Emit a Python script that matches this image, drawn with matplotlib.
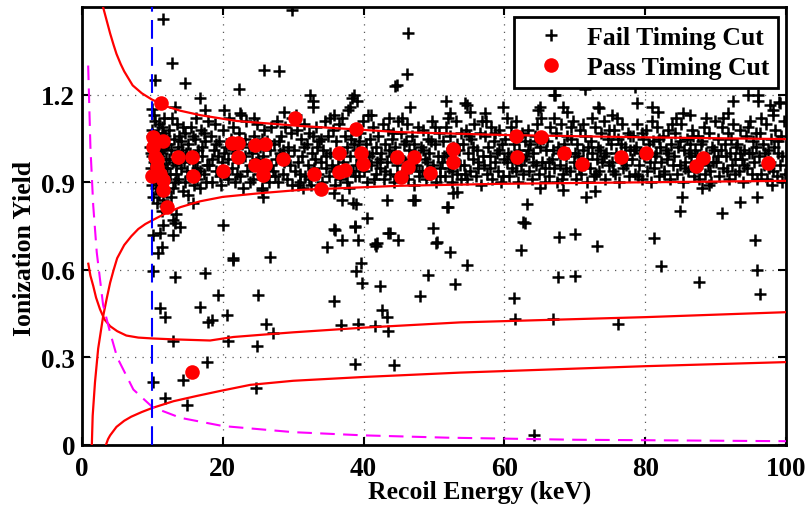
import numpy as np
import matplotlib
matplotlib.use('Agg')
import matplotlib.pyplot as plt

###########################################################################
## Data
# Recoil energy threshold [keV]
thresh_keV = 10.0

# Electron recoil band, upper edge
er_hi_x = [3.0, 3.5, 4.0, 4.5, 4.9, 5.5, 6.0, 7.2, 8.5, 9.9, 12.0, 14.0, 16.8, 22.0, 31.0, 45.0, 60.0, 80.0, 100.0]
er_hi_y = [1.50, 1.455, 1.41, 1.37, 1.34, 1.305, 1.28, 1.232, 1.205, 1.184, 1.16, 1.145, 1.13, 1.11, 1.093, 1.072,
           1.062, 1.054, 1.048]
# Electron recoil band, lower edge
er_lo_x = [1.4, 1.52, 1.85, 2.3, 3.0, 3.5, 4.0, 4.5, 5.0, 6.0, 7.0, 8.0, 9.0, 10.0, 12.0, 14.0, 16.8, 20.0, 25.0,
           31.0, 45.0, 60.0, 80.0, 100.0]
er_lo_y = [0.0, 0.10, 0.215, 0.33, 0.44, 0.50, 0.556, 0.60, 0.64, 0.685, 0.715, 0.74, 0.757, 0.77, 0.795, 0.815,
           0.835, 0.85, 0.862, 0.874, 0.888, 0.895, 0.90, 0.905]
# Nuclear recoil band, upper edge
nr_hi_x = [0.9, 1.2, 1.6, 2.0, 2.56, 3.2, 4.0, 5.0, 6.3, 8.0, 10.0, 12.9, 18.2, 21.5, 25.7, 30.0, 40.0, 53.7, 80.0,
           100.0]
nr_hi_y = [0.621, 0.58, 0.545, 0.505, 0.465, 0.43, 0.407, 0.39, 0.375, 0.368, 0.365, 0.362, 0.358, 0.370, 0.378,
           0.386, 0.402, 0.42, 0.438, 0.455]
# Nuclear recoil band, lower edge
nr_lo_x = [3.4, 3.7, 4.0, 4.9, 6.0, 7.0, 8.5, 10.0, 13.0, 16.3, 19.6, 23.9, 30.0, 40.0, 53.7, 80.0, 100.0]
nr_lo_y = [0.0, 0.02, 0.033, 0.062, 0.083, 0.097, 0.113, 0.127, 0.15, 0.168, 0.185, 0.206, 0.22, 0.233, 0.248,
           0.27, 0.284]
# Ionization threshold curve
ion_thr_x = [0.88, 1.2, 1.6, 2.1, 3.0, 4.0, 5.0, 7.3, 10.0, 14.0, 20.0, 30.0, 40.0, 52.0, 70.0, 100.0]
ion_thr_y = [1.30, 1.02, 0.82, 0.66, 0.48, 0.385, 0.30, 0.19, 0.13, 0.093, 0.065, 0.044, 0.033, 0.025, 0.018, 0.013]

# Events passing the timing cut
pass_pts = [
    (11.2, 1.17), (30.2, 1.12), (10.1, 1.055), (10.1, 1.02), (10.4, 0.986), (10.6, 0.952),
    (11.1, 0.93), (11.5, 0.908), (11.5, 0.874), (12.1, 0.816), (11.5, 1.04), (10.0, 0.92),
    (10.6, 0.976), (13.6, 0.986), (15.6, 0.986), (15.8, 0.92), (20.0, 0.94), (21.3, 1.035),
    (22.2, 1.035), (22.2, 0.986), (24.6, 1.027), (26.0, 1.03), (24.6, 0.96), (26.0, 0.96),
    (25.7, 0.925), (28.6, 0.98), (38.9, 1.082), (36.5, 1.0), (39.6, 1.0), (39.9, 0.963),
    (37.4, 0.942), (36.5, 0.935), (33.0, 0.928), (34.0, 0.877), (44.7, 0.986), (47.2, 0.986),
    (46.3, 0.952), (45.3, 0.918), (49.4, 0.932), (52.7, 1.013), (52.7, 0.97), (61.6, 1.058),
    (65.2, 1.055), (61.8, 0.986), (68.5, 1.0), (71.0, 0.962), (76.6, 0.985), (80.1, 1.0),
    (87.2, 0.956), (88.2, 0.983), (97.4, 0.966), (15.6, 0.25),
]

# Events failing the timing cut, dense band
fail_band = [
    (9.7, 1.02), (9.8, 0.95), (9.9, 1.08), (10.0, 0.99), (10.1, 0.91), (10.2, 1.05), (10.3, 0.97), (10.4, 1.11),
    (10.5, 0.88), (10.6, 1.01), (10.7, 0.94), (10.8, 1.07), (10.9, 0.86), (11.0, 0.99), (11.1, 1.04), (11.2, 0.92),
    (11.3, 1.09), (11.4, 0.96), (11.5, 0.84), (11.6, 1.02), (11.7, 0.90), (11.8, 1.06), (11.9, 0.98), (12.0, 0.87),
    (9.8, 1.00), (10.0, 1.06), (10.2, 0.93), (10.4, 0.98), (10.6, 0.90), (10.8, 0.97), (11.0, 1.10), (11.2, 1.01),
    (11.4, 0.89), (11.6, 0.95), (11.8, 0.82), (12.0, 1.03), (10.1, 0.85), (10.5, 1.03), (10.9, 0.93), (11.3, 1.00),
    (11.7, 1.12), (12.1, 0.95), (9.9, 0.89), (10.3, 1.13), (10.7, 0.83), (11.1, 0.87), (11.5, 1.07), (11.9, 0.91),
    (10.0, 1.15), (11.4, 0.80),
    (12.3, 1.08), (12.5, 0.93), (12.7, 1.01), (12.9, 0.88), (13.1, 1.05), (13.3, 0.96), (13.5, 1.10), (13.7, 0.91),
    (13.9, 0.99), (14.1, 1.04), (14.3, 0.87), (14.5, 0.97), (14.7, 1.07), (14.9, 0.94), (12.4, 0.98), (12.8, 1.12),
    (13.2, 0.90), (13.6, 1.02), (14.0, 0.95), (14.4, 1.09), (14.8, 1.00), (12.6, 0.85), (13.4, 0.93), (14.2, 1.01),
    (12.2, 1.03), (13.0, 0.97), (13.8, 1.06), (14.6, 0.90),
    (15.1, 1.03), (15.3, 0.92), (15.5, 1.09), (15.7, 0.97), (15.9, 0.89), (16.1, 1.05), (16.3, 0.95), (16.5, 1.01),
    (16.7, 0.88), (16.9, 1.08), (17.1, 0.99), (17.3, 0.93), (17.5, 1.04), (17.7, 0.96), (17.9, 1.11), (15.2, 0.98),
    (15.8, 1.06), (16.4, 0.91), (17.0, 1.02), (17.6, 0.90), (16.0, 0.97), (16.8, 0.94), (15.4, 1.00), (17.4, 1.07),
    (16.2, 1.12),
    (18.1, 0.96), (18.3, 1.06), (18.5, 0.90), (18.7, 1.01), (18.9, 1.10), (19.1, 0.94), (19.3, 0.99), (19.5, 1.04),
    (19.7, 0.89), (19.9, 0.97), (20.1, 1.08), (20.3, 0.93), (20.5, 1.02), (20.7, 0.98), (20.9, 1.12), (18.4, 0.98),
    (19.0, 1.03), (19.6, 0.92), (20.2, 1.00), (20.8, 0.91),
    (21.1, 1.05), (21.3, 0.95), (21.5, 1.09), (21.7, 0.90), (21.9, 1.00), (22.1, 0.97), (22.3, 1.07), (22.5, 0.92),
    (22.7, 1.03), (22.9, 0.88), (23.1, 0.99), (23.3, 1.11), (23.5, 0.94), (23.7, 1.02), (23.9, 0.96), (21.4, 1.01),
    (22.0, 0.93), (22.6, 1.13), (23.2, 1.05), (23.8, 0.90),
    (24.1, 1.00), (24.3, 0.91), (24.5, 1.06), (24.7, 0.97), (24.9, 1.10), (25.1, 0.93), (25.3, 1.02), (25.5, 0.88),
    (25.7, 0.99), (25.9, 1.08), (26.1, 0.95), (26.3, 1.04), (26.5, 0.90), (26.7, 1.01), (26.9, 0.96), (24.4, 1.12),
    (25.0, 0.98), (25.6, 1.05), (26.2, 0.92), (26.8, 1.09),
    (27.1, 0.94), (27.3, 1.03), (27.5, 0.98), (27.7, 1.11), (27.9, 0.90), (28.1, 1.00), (28.3, 1.06), (28.5, 0.93),
    (28.7, 0.97), (28.9, 1.09), (29.1, 0.91), (29.3, 1.02), (29.5, 0.96), (29.7, 1.07), (29.9, 0.89), (27.4, 0.92),
    (28.0, 1.04), (28.6, 1.01), (29.2, 0.99), (29.8, 1.12),
    (30.1, 1.01), (30.3, 0.94), (30.5, 1.08), (30.7, 0.97), (30.9, 0.90), (31.1, 1.05), (31.3, 0.99), (31.5, 1.10),
    (31.7, 0.92), (31.9, 1.03), (32.1, 0.96), (32.3, 1.07), (32.5, 0.89), (32.7, 1.00), (32.9, 0.95), (30.4, 1.13),
    (31.0, 0.93), (31.6, 1.02), (32.2, 0.91), (32.8, 1.06),
    (33.1, 0.98), (33.3, 1.09), (33.5, 0.93), (33.7, 1.04), (33.9, 0.97), (34.1, 0.90), (34.3, 1.01), (34.5, 1.11),
    (34.7, 0.95), (34.9, 1.06), (35.1, 0.92), (35.3, 1.00), (35.5, 0.96), (35.7, 1.08), (35.9, 0.89), (33.4, 1.02),
    (34.0, 1.05), (34.6, 0.99), (35.2, 1.12), (35.8, 0.94),
    (36.1, 1.04), (36.3, 0.95), (36.5, 1.10), (36.7, 0.91), (36.9, 1.00), (37.1, 0.97), (37.3, 1.06), (37.5, 0.93),
    (37.7, 1.02), (37.9, 0.88), (38.1, 0.99), (38.3, 1.08), (38.5, 0.94), (38.7, 1.03), (38.9, 0.96), (36.4, 0.99),
    (37.0, 1.12), (37.6, 0.90), (38.2, 1.05), (38.8, 0.92),
    (39.1, 1.01), (39.3, 0.92), (39.5, 1.07), (39.7, 0.98), (39.9, 1.11), (40.1, 0.94), (40.3, 1.03), (40.5, 0.90),
    (40.7, 0.99), (40.9, 1.05), (41.1, 0.96), (41.3, 1.09), (41.5, 0.91), (41.7, 1.02), (41.9, 0.97), (39.4, 1.04),
    (40.0, 0.97), (40.6, 1.13), (41.2, 1.00), (41.8, 0.93),
    (42.1, 1.06), (42.3, 0.95), (42.5, 1.00), (42.7, 1.10), (42.9, 0.91), (43.1, 1.03), (43.3, 0.97), (43.5, 1.08),
    (43.7, 0.93), (43.9, 0.99), (44.1, 1.05), (44.3, 0.90), (44.5, 1.02), (44.7, 0.96), (44.9, 1.11), (42.4, 0.98),
    (43.0, 0.94), (43.6, 1.01), (44.2, 1.07), (44.8, 0.92),
    (45.1, 0.99), (45.3, 1.07), (45.5, 0.93), (45.7, 1.03), (45.9, 0.97), (46.1, 1.10), (46.3, 0.91), (46.5, 1.01),
    (46.7, 0.95), (46.9, 1.06), (47.1, 0.89), (47.3, 1.00), (47.5, 0.96), (47.7, 1.09), (47.9, 0.94), (45.4, 1.12),
    (46.0, 1.04), (46.6, 0.98), (47.2, 1.03), (47.8, 0.92),
    (48.1, 1.02), (48.3, 0.94), (48.5, 1.08), (48.7, 0.98), (48.9, 0.91), (49.1, 1.05), (49.3, 1.00), (49.5, 0.93),
    (49.7, 1.11), (49.9, 0.96), (50.1, 1.03), (50.3, 0.90), (50.5, 0.99), (50.7, 1.07), (50.9, 0.95), (48.4, 1.01),
    (49.0, 0.97), (49.6, 1.04), (50.2, 1.09), (50.8, 0.92),
    (51.1, 0.97), (51.3, 1.04), (51.5, 0.92), (51.7, 1.09), (51.9, 1.00), (52.1, 0.95), (52.3, 1.06), (52.5, 0.90),
    (52.7, 1.02), (52.9, 0.98), (53.1, 1.11), (53.3, 0.93), (53.5, 1.01), (53.7, 0.96), (53.9, 1.07), (51.4, 0.99),
    (52.0, 1.12), (52.6, 0.94), (53.2, 1.03), (53.8, 0.91),
    (54.1, 1.03), (54.3, 0.96), (54.5, 1.08), (54.7, 0.91), (54.9, 1.00), (55.1, 0.94), (55.3, 1.05), (55.5, 0.98),
    (55.7, 1.10), (55.9, 0.92), (56.1, 1.01), (56.3, 0.97), (56.5, 1.07), (56.7, 0.89), (56.9, 0.99), (54.4, 0.93),
    (55.0, 1.06), (55.6, 1.02), (56.2, 0.95), (56.8, 1.11),
    (57.1, 0.96), (57.3, 1.06), (57.5, 0.93), (57.7, 1.02), (57.9, 0.99), (58.1, 1.09), (58.3, 0.91), (58.5, 1.04),
    (58.7, 0.97), (58.9, 1.00), (59.1, 0.94), (59.3, 1.08), (59.5, 0.90), (59.7, 1.03), (59.9, 0.98), (57.4, 1.11),
    (58.0, 0.95), (58.6, 1.07), (59.2, 1.01), (59.8, 0.92),
    (60.1, 1.05), (60.3, 0.97), (60.5, 1.00), (60.7, 0.92), (60.9, 1.09), (61.1, 0.95), (61.3, 1.03), (61.5, 0.98),
    (61.7, 1.11), (61.9, 0.90), (62.1, 1.01), (62.3, 0.96), (62.5, 1.07), (62.7, 0.93), (62.9, 1.04), (60.4, 1.12),
    (61.0, 0.99), (61.6, 0.94), (62.2, 1.06), (62.8, 0.98),
    (63.1, 0.99), (63.3, 1.08), (63.5, 0.94), (63.7, 1.03), (63.9, 0.91), (64.1, 1.00), (64.3, 1.06), (64.5, 0.96),
    (64.7, 1.10), (64.9, 0.93), (65.1, 1.02), (65.3, 0.97), (65.5, 1.05), (65.7, 0.90), (65.9, 1.01), (63.4, 1.01),
    (64.0, 0.97), (64.6, 1.04), (65.2, 1.12), (65.8, 0.95),
    (66.1, 1.04), (66.3, 0.92), (66.5, 1.09), (66.7, 0.98), (66.9, 1.01), (67.1, 0.95), (67.3, 1.07), (67.5, 0.90),
    (67.7, 1.00), (67.9, 0.96), (68.1, 1.10), (68.3, 0.93), (68.5, 1.03), (68.7, 0.99), (68.9, 1.06), (66.4, 0.97),
    (67.0, 1.12), (67.6, 1.02), (68.2, 0.91), (68.8, 0.95),
    (69.1, 1.00), (69.3, 0.94), (69.5, 1.05), (69.7, 1.11), (69.9, 0.97), (70.1, 0.91), (70.3, 1.03), (70.5, 0.99),
    (70.7, 1.08), (70.9, 0.93), (71.1, 1.01), (71.3, 0.96), (71.5, 1.06), (71.7, 0.90), (71.9, 1.02), (69.4, 1.09),
    (70.0, 1.00), (70.6, 0.95), (71.2, 1.10), (71.8, 0.98),
    (72.1, 0.95), (72.3, 1.04), (72.5, 1.00), (72.7, 0.92), (72.9, 1.09), (73.1, 0.98), (73.3, 1.02), (73.5, 0.94),
    (73.7, 1.07), (73.9, 0.97), (74.1, 1.11), (74.3, 0.91), (74.5, 1.00), (74.7, 1.05), (74.9, 0.96), (72.4, 1.12),
    (73.0, 0.93), (73.6, 1.01), (74.2, 0.99), (74.8, 1.08),
    (75.1, 1.03), (75.3, 0.97), (75.5, 1.08), (75.7, 0.93), (75.9, 1.00), (76.1, 1.05), (76.3, 0.90), (76.5, 0.99),
    (76.7, 1.10), (76.9, 0.95), (77.1, 1.02), (77.3, 0.96), (77.5, 1.07), (77.7, 0.92), (77.9, 1.01), (75.4, 0.94),
    (76.0, 1.12), (76.6, 1.03), (77.2, 0.98), (77.8, 1.06),
    (78.1, 0.98), (78.3, 1.06), (78.5, 0.93), (78.7, 1.02), (78.9, 1.10), (79.1, 0.96), (79.3, 1.00), (79.5, 0.91),
    (79.7, 1.05), (79.9, 0.99), (80.1, 1.08), (80.3, 0.94), (80.5, 1.03), (80.7, 0.97), (80.9, 1.11), (78.4, 1.01),
    (79.0, 0.92), (79.6, 1.07), (80.2, 1.00), (80.8, 0.90),
    (81.1, 1.04), (81.3, 0.95), (81.5, 1.00), (81.7, 1.09), (81.9, 0.92), (82.1, 1.02), (82.3, 0.97), (82.5, 1.06),
    (82.7, 0.94), (82.9, 1.01), (83.1, 0.98), (83.3, 1.08), (83.5, 0.91), (83.7, 1.03), (83.9, 0.96), (81.4, 0.99),
    (82.0, 1.05), (82.6, 0.93), (83.2, 1.00), (83.8, 1.10),
    (84.1, 0.99), (84.3, 1.07), (84.5, 0.93), (84.7, 1.02), (84.9, 0.96), (85.1, 1.10), (85.3, 0.90), (85.5, 1.01),
    (85.7, 0.97), (85.9, 1.05), (86.1, 0.94), (86.3, 1.03), (86.5, 0.99), (86.7, 1.08), (86.9, 0.92), (84.4, 1.12),
    (85.0, 1.04), (85.6, 0.95), (86.2, 1.00), (86.8, 1.06),
    (87.1, 1.01), (87.3, 0.95), (87.5, 1.06), (87.7, 0.91), (87.9, 1.03), (88.1, 0.98), (88.3, 1.09), (88.5, 0.93),
    (88.7, 1.00), (88.9, 0.96), (89.1, 1.07), (89.3, 0.90), (89.5, 1.02), (89.7, 0.97), (89.9, 1.11), (87.4, 0.99),
    (88.0, 1.04), (88.6, 1.12), (89.2, 0.94), (89.8, 1.01),
    (90.1, 0.97), (90.3, 1.05), (90.5, 0.92), (90.7, 1.01), (90.9, 1.09), (91.1, 0.95), (91.3, 1.03), (91.5, 0.99),
    (91.7, 1.07), (91.9, 0.91), (92.1, 1.00), (92.3, 0.96), (92.5, 1.10), (92.7, 0.93), (92.9, 1.02), (90.4, 0.99),
    (91.0, 1.12), (91.6, 0.94), (92.2, 1.05), (92.8, 0.98),
    (93.1, 1.03), (93.3, 0.94), (93.5, 1.08), (93.7, 0.98), (93.9, 0.90), (94.1, 1.01), (94.3, 1.06), (94.5, 0.95),
    (94.7, 1.00), (94.9, 1.11), (95.1, 0.93), (95.3, 1.04), (95.5, 0.97), (95.7, 1.02), (95.9, 0.91), (93.4, 1.00),
    (94.0, 0.96), (94.6, 1.09), (95.2, 1.00), (95.8, 1.07),
    (96.1, 0.99), (96.3, 1.07), (96.5, 0.93), (96.7, 1.03), (96.9, 0.96), (97.1, 1.10), (97.3, 0.91), (97.5, 1.01),
    (97.7, 0.97), (97.9, 1.05), (98.1, 0.94), (98.3, 1.02), (98.5, 1.08), (98.7, 0.92), (98.9, 1.00), (99.1, 0.96),
    (99.3, 1.06), (99.5, 0.99), (99.7, 1.11), (99.9, 0.93), (96.4, 1.12), (97.0, 1.00), (97.6, 0.95), (98.2, 1.13),
    (98.8, 1.04), (99.4, 0.90),
]

# Events failing the timing cut, scattered outside the band
fail_outliers = [
    # above the band
    (11.5, 1.46), (12.8, 1.31), (10.4, 1.25), (14.6, 1.24), (16.7, 1.19), (22.3, 1.22), (25.8, 1.285),
    (28.0, 1.28), (29.8, 1.49), (44.5, 1.23), (32.4, 1.20), (32.8, 1.18), (32.8, 1.157), (38.3, 1.19),
    (39.0, 1.18), (38.6, 1.20), (38.0, 1.157), (46.3, 1.41), (46.2, 1.27), (46.6, 1.157), (51.7, 1.18),
    (54.7, 1.165), (59.8, 1.157), (65.0, 1.157), (67.0, 1.20), (73.3, 1.157), (78.8, 1.17), (78.6, 1.225),
    (92.5, 1.18), (94.6, 1.20), (96.0, 1.20), (96.0, 1.18), (97.7, 1.165), (99.0, 1.175), (13.2, 1.157),
    (17.5, 1.147), (20.2, 1.147), (22.4, 1.136), (28.7, 1.14), (44.7, 1.232), (37.8, 1.147), (52.3, 1.136),
    (35.8, 1.13), (41.1, 1.13), (43.6, 1.12), (67.2, 1.198), (71.4, 1.218), (64.8, 1.147), (68.3, 1.157),
    (68.9, 1.14), (73.4, 1.154), (54.4, 1.17), (55.1, 1.14), (57.2, 1.137), (75.3, 1.13), (80.9, 1.157),
    (81.8, 1.14), (85.4, 1.137), (86.4, 1.13), (91.8, 1.137), (98.2, 1.147), (99.1, 1.17),
    # below the band
    (20.0, 0.754), (25.7, 0.85), (36.0, 0.737), (34.8, 0.68), (36.9, 0.703), (39.2, 0.703), (40.5, 0.778),
    (41.9, 0.693), (38.8, 0.748), (43.5, 0.727), (44.9, 0.703), (43.3, 0.84), (38.5, 0.83), (36.9, 0.84),
    (21.5, 0.64), (26.7, 0.645), (11.3, 0.68), (11.1, 0.727), (12.9, 0.77), (13.9, 0.748), (10.1, 0.72),
    (10.8, 0.658), (11.5, 0.754), (13.2, 0.76), (10.1, 0.597), (13.2, 0.577), (17.5, 0.59), (21.5, 0.635),
    (19.3, 0.515), (25.0, 0.515), (11.1, 0.468), (11.8, 0.44), (16.8, 0.474), (17.9, 0.42), (18.5, 0.427),
    (20.6, 0.447), (12.9, 0.355), (20.7, 0.355), (26.1, 0.413), (27.1, 0.382), (24.9, 0.338), (17.8, 0.283),
    (10.1, 0.215), (14.3, 0.222), (11.8, 0.16), (14.9, 0.137), (24.7, 0.195), (35.8, 0.74), (38.8, 0.75),
    (41.6, 0.69), (41.7, 0.683), (43.8, 0.727), (49.9, 0.744), (50.3, 0.693), (52.3, 0.66), (39.6, 0.625),
    (38.9, 0.597), (39.8, 0.556), (42.3, 0.546), (35.8, 0.495), (49.1, 0.584), (53.0, 0.553), (48.0, 0.512),
    (42.6, 0.464), (43.3, 0.44), (36.8, 0.41), (39.2, 0.413), (41.6, 0.406), (43.5, 0.39), (38.8, 0.276),
    (44.3, 0.273), (54.7, 0.618), (62.9, 0.761), (62.4, 0.668), (67.8, 0.713), (70.0, 0.723), (73.2, 0.683),
    (61.4, 0.505), (67.6, 0.577), (70.0, 0.58), (61.5, 0.43), (66.9, 0.433), (76.1, 0.416), (64.2, 0.034),
    (81.3, 0.71), (82.2, 0.614), (87.6, 0.56), (95.6, 0.703), (95.9, 0.60), (96.3, 0.519),
    (52.7, 0.863), (53.3, 0.867), (63.2, 0.826), (65.0, 0.88), (68.3, 0.874), (71.6, 0.85), (72.9, 0.87),
    (47.0, 0.84), (52.0, 0.816), (50.4, 0.697), (62.7, 0.765), (85.2, 0.85), (84.9, 0.80), (88.0, 0.88),
    (89.0, 0.89), (90.9, 0.795), (93.5, 0.833), (95.9, 0.85), (98.0, 0.89), (31.4, 0.88), (35.8, 0.863),
    (38.9, 0.826), (47.3, 0.84), (51.8, 0.816), (15.1, 0.857), (25.6, 0.874), (30.7, 0.89), (15.8, 0.83),
    (12.9, 0.72), (13.3, 0.79),
]
###########################################################################

plt.rcParams['font.family'] = 'Liberation Serif'
plt.rcParams['font.weight'] = 'bold'

fig = plt.figure(figsize=(8.06, 5.10), dpi=100)
ax = fig.add_axes([0.1017, 0.1255, 0.8735, 0.8585])

band_x, band_y = zip(*fail_band)
out_x, out_y = zip(*fail_outliers)
pass_x, pass_y = zip(*pass_pts)
fail_x = list(band_x) + list(out_x)
fail_y = list(band_y) + list(out_y)

h_fail, = ax.plot(fail_x, fail_y, '+', color='k', markersize=9, markeredgewidth=1.8,
                  linestyle='none', zorder=2, label='Fail Timing Cut')

# Bands and threshold lines
for bx, by in [(er_hi_x, er_hi_y), (er_lo_x, er_lo_y), (nr_hi_x, nr_hi_y), (nr_lo_x, nr_lo_y)]:
    ax.plot(bx, by, '-', color='#ff0000', linewidth=1.6, zorder=3)
ax.plot(ion_thr_x, ion_thr_y, '--', color='#ff00ff', linewidth=1.5, dashes=(7, 4), zorder=3)
ax.axvline(thresh_keV, color='#0000ff', linestyle='--', linewidth=1.5, dashes=(9, 4), zorder=3)

h_pass, = ax.plot(pass_x, pass_y, 'o', color='#ff0000', markersize=10.5, markeredgewidth=0,
                  linestyle='none', zorder=4, label='Pass Timing Cut')

ax.set_xlim(0, 100)
ax.set_ylim(0, 1.5)
ax.set_xticks([0, 20, 40, 60, 80, 100])
ax.set_yticks([0, 0.3, 0.6, 0.9, 1.2])
ax.set_yticklabels(['0', '0.3', '0.6', '0.9', '1.2'])
ax.tick_params(direction='in', top=True, right=True, length=6, width=1.5, labelsize=19.5)
ax.tick_params(axis='x', pad=8)
ax.tick_params(axis='y', pad=5)
for sp in ax.spines.values():
    sp.set_linewidth(2)

ax.grid(True, color='0.35', linestyle=(0, (1, 5)), linewidth=0.9)
ax.set_axisbelow(True)

ax.set_xlabel('Recoil Energy (keV)', fontsize=18.5, fontweight='bold')
ax.set_ylabel('Ionization Yield', fontsize=18.5, fontweight='bold')
# label positions as in the reference (slightly off the axis centre)
ax.xaxis.set_label_coords(0.565, -0.08)
ax.yaxis.set_label_coords(-0.065, 0.451)

leg = ax.legend(handles=[h_fail, h_pass], loc='upper right', bbox_to_anchor=(0.989, 0.977),
                borderaxespad=0, fontsize=18.5, frameon=True, fancybox=False, handlelength=2.2,
                handletextpad=0.3, borderpad=0.35, labelspacing=0.25)
leg.get_frame().set_edgecolor('k')
leg.get_frame().set_linewidth(2)
leg.get_frame().set_alpha(1)

fig.savefig('out.png', dpi=100)
